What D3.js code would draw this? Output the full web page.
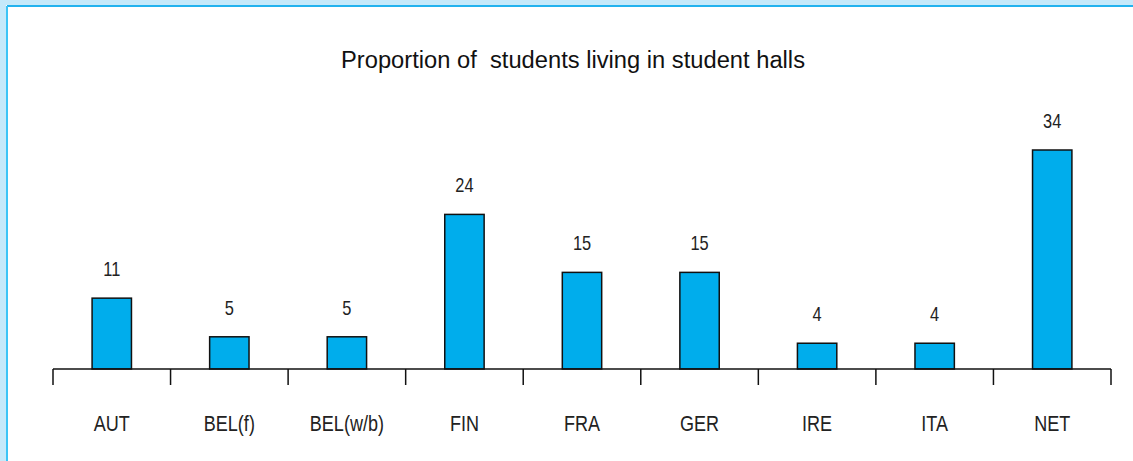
<!DOCTYPE html>
<html>
<head>
<meta charset="utf-8">
<script src="https://cdn.jsdelivr.net/npm/d3@7"></script>
<style>
  body { margin: 0; background: #c5e9fa; }
  svg { display: block; }
</style>
</head>
<body>
<svg id="chart" width="1133" height="461"></svg>
<script>
// data
const countries = ["AUT", "BEL(f)", "BEL(w/b)", "FIN", "FRA", "GER", "IRE", "ITA", "NET"];
const shares = [11, 5, 5, 24, 15, 15, 4, 4, 34];
const title = "Proportion of  students living in student halls";

const W = 1133, H = 461;
const svg = d3.select("#chart");

// panel with the blue frame on top / left
svg.append("rect").attr("x", 0).attr("y", 0).attr("width", W).attr("height", H).attr("fill", "#c5e9fa");
svg.append("rect").attr("x", 6).attr("y", 5).attr("width", W - 6).attr("height", H - 5).attr("fill", "#fff");
svg.append("line").attr("x1", 7).attr("x2", W).attr("y1", 6).attr("y2", 6)
  .attr("stroke", "#22b2ee").attr("stroke-width", 2);
svg.append("line").attr("x1", 7).attr("x2", 7).attr("y1", 6).attr("y2", H)
  .attr("stroke", "#3cc4f6").attr("stroke-width", 2);

const x = d3.scaleBand()
  .domain(countries)
  .range([53, 1111])
  .paddingInner(0.665)
  .paddingOuter(0.3325);

const bandX = d3.scaleBand().domain(countries).range([53, 1111]);

const y = d3.scaleLinear()
  .domain([0, 34])
  .range([369, 150]);

svg.append("text")
  .attr("x", 341).attr("y", 68)
  .attr("font-family", "Liberation Sans, Arial, sans-serif")
  .attr("font-size", 23.5)
  .attr("textLength", 464)
  .attr("lengthAdjust", "spacingAndGlyphs")
  .style("white-space", "pre")
  .attr("fill", "#111")
  .text(title);

svg.selectAll("rect.bar")
  .data(shares)
  .enter()
  .append("rect")
  .attr("class", "bar")
  .attr("x", (d, i) => x(countries[i]))
  .attr("width", x.bandwidth())
  .attr("y", d => y(d))
  .attr("height", d => y(0) - y(d))
  .attr("fill", "#00adec")
  .attr("stroke", "#111")
  .attr("stroke-width", 1.5);

// axis line with tick marks between categories
svg.append("line")
  .attr("x1", 53).attr("x2", 1111)
  .attr("y1", y(0)).attr("y2", y(0))
  .attr("stroke", "#111").attr("stroke-width", 1.5);

const edges = countries.map(c => bandX(c)).concat([1111]);
svg.selectAll("line.tick")
  .data(edges)
  .enter()
  .append("line")
  .attr("class", "tick")
  .attr("x1", d => d).attr("x2", d => d)
  .attr("y1", y(0)).attr("y2", y(0) + 16)
  .attr("stroke", "#111").attr("stroke-width", 1.5);

// condensed look: regular sans squeezed horizontally
const narrow = "Liberation Sans, Arial, sans-serif";
const squeeze = 0.82;

svg.selectAll("text.val")
  .data(shares)
  .enter()
  .append("text")
  .attr("class", "val")
  .attr("transform", (d, i) =>
    `translate(${bandX(countries[i]) + bandX.bandwidth() / 2},${y(d) - 22}) scale(${squeeze},1)`)
  .attr("text-anchor", "middle")
  .attr("font-family", narrow)
  .attr("font-size", 20)
  .attr("fill", "#222")
  .text(d => d);

svg.selectAll("text.cat")
  .data(countries)
  .enter()
  .append("text")
  .attr("class", "cat")
  .attr("transform", d =>
    `translate(${bandX(d) + bandX.bandwidth() / 2},431) scale(${squeeze},1)`)
  .attr("text-anchor", "middle")
  .attr("font-family", narrow)
  .attr("font-size", 22)
  .attr("fill", "#222")
  .text(d => d);
</script>
</body>
</html>
